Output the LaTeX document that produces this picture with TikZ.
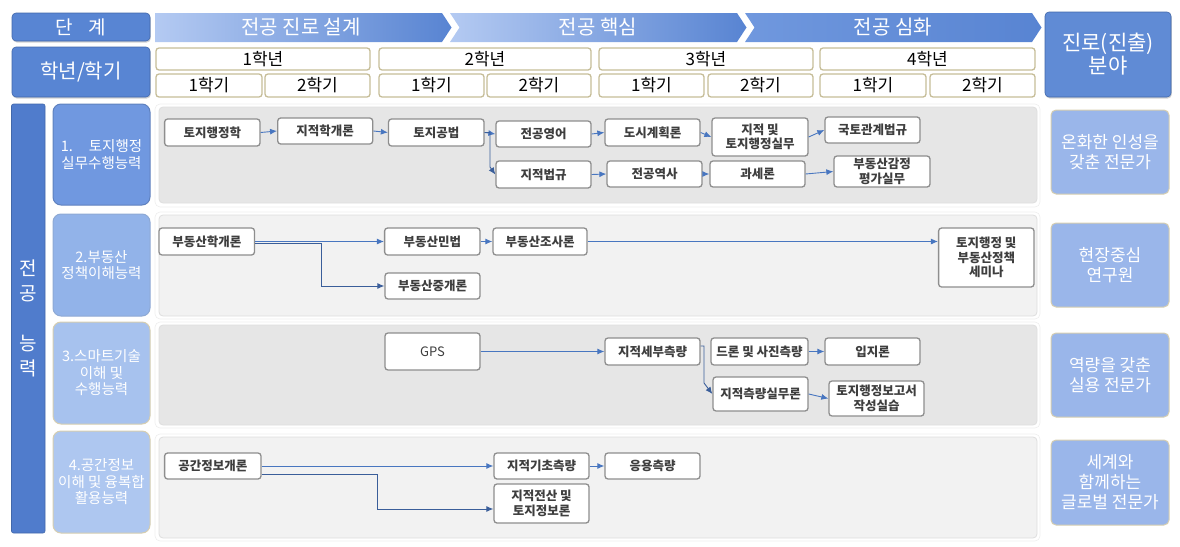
\documentclass[tikz,border=0pt]{standalone}
\usepackage{fontspec}
\newfontfamily\kr{Noto Sans CJK KR}
\usetikzlibrary{arrows.meta,shadows}
\definecolor{hdrblue}{RGB}{88,133,211}
\definecolor{hdrline}{RGB}{66,104,170}
\definecolor{chl}{RGB}{180,202,242}
\definecolor{chr}{RGB}{88,132,210}
\definecolor{chm}{RGB}{112,152,222}
\definecolor{barblue}{RGB}{80,124,204}
\definecolor{compa}{RGB}{112,152,224}
\definecolor{compb}{RGB}{146,179,233}
\definecolor{compc}{RGB}{167,194,238}
\definecolor{compd}{RGB}{174,199,240}
\definecolor{goalblue}{RGB}{154,182,234}
\definecolor{goaltan}{RGB}{214,206,176}
\definecolor{yrtan}{RGB}{198,189,152}
\definecolor{boxgray}{RGB}{142,142,142}
\definecolor{textgray}{RGB}{62,62,62}
\definecolor{panda}{RGB}{230,230,230}
\definecolor{pandb}{RGB}{242,242,242}
\definecolor{panline}{RGB}{222,222,222}
\definecolor{arrblue}{RGB}{72,118,192}
% \bx{style}{x1}{y1}{x2}{y2}{name}{text}
\newcommand\bx[7]{\node[#1, minimum width={#4-#2}, minimum height={#5-#3}] (#6) at ({(#2+#4)/2},{(#3+#5)/2}) {#7};}
\begin{document}
\begin{tikzpicture}[x=1pt,y=-1pt,
  hdrbox/.style={fill=hdrblue, draw=hdrline, line width=0.6pt, rounded corners=4pt, text=white,
    font=\kr\fontsize{20}{23}\selectfont, inner sep=0pt, align=center,
    drop shadow={shadow xshift=0.8pt, shadow yshift=-1.5pt, opacity=0.35}},
  chev/.style={left color=chl, right color=chr, draw=none},
  chevtext/.style={text=white, font=\kr\fontsize{20}{23}\selectfont, inner sep=0pt},
  yrbox/.style={fill=white, draw=yrtan, line width=1.3pt, rounded corners=3pt,
    font=\kr\fontsize{17}{19}\selectfont, inner sep=0pt},
  box/.style={fill=white, draw=boxgray, line width=1.3pt, rounded corners=3pt,
    font=\kr\bfseries\fontsize{12.5}{14.5}\selectfont, text=textgray, inner sep=0pt, align=center},
  comp/.style={rounded corners=8pt, text=white, font=\kr\fontsize{14.5}{16.5}\selectfont,
    inner sep=0pt, align=center, line width=1pt},
  goal/.style={fill=goalblue, draw=goaltan, line width=1pt, rounded corners=5pt, text=white,
    font=\kr\fontsize{17}{20}\selectfont, align=center, inner sep=0pt},
  panel/.style={draw=panline, line width=0.8pt, rounded corners=4pt, inner sep=0pt},
  arr/.style={draw=arrblue, line width=0.9pt, -{Latex[length=7pt,width=6pt]}}
]
\useasboundingbox (0,0) rectangle (1180,546);

% ---------- header ----------
\bx{hdrbox, font=\kr\fontsize{19}{23}\selectfont}{12}{13}{150}{41}{stage}{단\hspace{16pt}계}
\bx{hdrbox}{12}{47}{150}{97}{yearsem}{학년/학기}
\bx{hdrbox, fill=hdrblue!95!white, font=\kr\fontsize{21}{23}\selectfont}{1045}{12}{1171}{97}{career}{진로(진출)\\분야}

\path[chev] (155,13) -- (442,13) -- (451.5,27.5) -- (442,42) -- (155,42) -- cycle;
\path[chev] (450,13) -- (737,13) -- (746.5,27.5) -- (737,42) -- (450,42) -- (459.5,27.5) -- cycle;
\path[left color=chm, right color=chr] (745,13) -- (1032,13) -- (1041.5,27.5) -- (1032,42) -- (745,42) -- (754.5,27.5) -- cycle;
\node[chevtext] (ch1) at (301,27.5) {전공 진로 설계};
\node[chevtext] (ch2) at (598,27.5) {전공 핵심};
\node[chevtext] (ch3) at (893,27.5) {전공 심화};

\bx{yrbox}{156}{48}{370}{70}{y1}{1학년}
\bx{yrbox}{379}{48}{591}{70}{y2}{2학년}
\bx{yrbox}{599}{48}{813}{70}{y3}{3학년}
\bx{yrbox}{820}{48}{1035}{70}{y4}{4학년}
\bx{yrbox}{156}{74}{262}{97}{s11}{1학기}
\bx{yrbox}{265}{74}{370}{97}{s12}{2학기}
\bx{yrbox}{379}{74}{484}{97}{s21}{1학기}
\bx{yrbox}{487}{74}{591}{97}{s22}{2학기}
\bx{yrbox}{599}{74}{704}{97}{s31}{1학기}
\bx{yrbox}{708}{74}{813}{97}{s32}{2학기}
\bx{yrbox}{820}{74}{926}{97}{s41}{1학기}
\bx{yrbox}{930}{74}{1035}{97}{s42}{2학기}

% ---------- left column ----------
\bx{fill=barblue, draw=hdrline, line width=0.6pt, rounded corners=2pt, inner sep=0pt}{11.5}{104}{45}{533}{bar}{}
\node[text=white, font=\kr\fontsize{19}{25}\selectfont, align=center, inner sep=0pt] (bartext) at (28,318.5) {전\\공\\[25pt]능\\력};

\bx{comp, fill=compa, draw=compa!85!black}{53}{104}{150}{205}{k1}{1.\hspace{1.1em}토지행정\\실무수행능력}
\bx{comp, fill=compb, draw=compb!80!gray}{53}{214}{150}{316}{k2}{2.부동산\\정책이해능력}
\bx{comp, fill=compc, draw=goaltan}{53}{322}{150}{424}{k3}{3.스마트기술\\이해 및\\수행능력}
\bx{comp, fill=compd, draw=goaltan}{53}{431}{150}{533}{k4}{4.공간정보\\이해 및 융복합\\활용능력}

% ---------- panels ----------
\draw[white!93!black, line width=0.6pt, rounded corners=5pt] (155,104) rectangle (1040,207);
\draw[white!93!black, line width=0.6pt, rounded corners=5pt] (155,212) rectangle (1040,319);
\draw[white!93!black, line width=0.6pt, rounded corners=5pt] (155,322) rectangle (1040,428);
\draw[white!93!black, line width=0.6pt, rounded corners=5pt] (155,434) rectangle (1040,541);
\bx{panel, fill=panda}{159}{107}{1037}{203}{p1}{}
\bx{panel, fill=pandb}{159}{215}{1037}{316}{p2}{}
\bx{panel, fill=panda}{159}{325}{1037}{425}{p3}{}
\bx{panel, fill=pandb}{159}{437}{1037}{538}{p4}{}

% ---------- goals ----------
\bx{goal}{1051}{110}{1169}{194}{g1}{온화한 인성을\\갖춘 전문가}
\bx{goal}{1051}{223}{1169}{307}{g2}{현장중심\\연구원}
\bx{goal}{1051}{333}{1169}{417}{g3}{역량을 갖춘\\실용 전문가}
\bx{goal}{1051}{440}{1169}{525}{g4}{세계와\\함께하는\\글로벌 전문가}

% ---------- row 1 ----------
\bx{box}{164.6}{119}{260}{146}{r1a}{토지행정학}
\bx{box}{277.7}{118}{372.7}{144}{r1b}{지적학개론}
\bx{box}{388.5}{119}{484}{146}{r1c}{토지공법}
\bx{box}{496}{121}{591}{147}{r1d}{전공영어}
\bx{box}{605}{119}{700}{146}{r1e}{도시계획론}
\bx{box}{712}{118}{808}{156}{r1f}{지적 및\\토지행정실무}
\bx{box}{825}{117}{920}{143}{r1g}{국토관계법규}
\bx{box}{496}{161}{591}{188}{r1h}{지적법규}
\bx{box}{607}{161}{702}{187}{r1i}{전공역사}
\bx{box}{710}{161}{805}{187}{r1j}{과세론}
\bx{box}{834}{156}{930}{187}{r1k}{부동산감정\\평가실무}

\coordinate (j0) at (490,132.5);
\coordinate (j0b) at (490,167);
\draw[arr] (r1a.east) -- (r1b.west);
\draw[arr] (r1b.east) -- (r1c.west);
\draw[arr] (r1c.east) -- (r1d.west);
\draw[arr, draw=arrblue!80!black] (r1c.east) -- (j0) -- (j0b) -- (r1h.west);
\draw[arr] (r1d.east) -- (r1e.west);
\draw[arr] (r1e.east) -- (r1f.west);
\draw[arr] (r1f.east) -- (r1g.west);
\draw[arr] (r1h.east) -- (r1i.west);
\draw[arr] (r1i.east) -- (r1j.west);
\draw[arr] (r1j.east) -- (r1k.west);

% ---------- row 2 ----------
\bx{box}{159}{228}{254.5}{255}{r2a}{부동산학개론}
\bx{box}{384.6}{228}{480}{255}{r2b}{부동산민법}
\bx{box}{493}{228}{587}{255}{r2c}{부동산조사론}
\bx{box}{385}{273}{480}{299}{r2d}{부동산중개론}
\bx{box}{938.6}{228}{1034}{287}{r2e}{토지행정 및\\부동산정책\\세미나}

\coordinate (j1) at (321,243.5);
\draw[arr] (r2a.east) -- (r2b.west);
\draw[arr, draw=arrblue!80!black] (r2a.east |- j1) -- (j1) |- (r2d.west);
\draw[arr] (r2b.east) -- (r2c.west);
\draw[arr] (r2c.east) -- (r2c.east -| r2e.west);

% ---------- row 3 ----------
\bx{box, font=\kr\fontsize{13}{15}\selectfont}{385}{333}{480}{370}{r3a}{GPS}
\bx{box}{605}{338}{700}{365}{r3b}{지적세부측량}
\bx{box}{711}{338}{808}{365}{r3c}{드론 및 사진측량}
\bx{box}{825}{338}{920}{365}{r3d}{입지론}
\bx{box}{713}{377}{808}{411}{r3e}{지적측량실무론}
\bx{box}{829}{381}{924}{416}{r3f}{토지행정보고서\\작성실습}

\coordinate (j2) at (704,346);
\coordinate (j2b) at (704,383);
\draw[arr] (r3a.east) -- (r3b.west);
\draw[arr, draw=arrblue!80!black] (r3b.east |- j2) -- (j2) -- (j2b) -- (r3e.west);
\draw[arr] (r3c.east) -- (r3d.west);
\draw[arr] (r3e.east) -- (r3f.west);

% ---------- row 4 ----------
\bx{box}{164.6}{453}{261}{479}{r4a}{공간정보개론}
\bx{box}{494}{453}{589}{479}{r4b}{지적기초측량}
\bx{box}{494}{484}{589}{523}{r4c}{지적전산 및\\토지정보론}
\bx{box}{605}{453}{700}{479}{r4d}{응용측량}

\coordinate (j3) at (377,474);
\coordinate (j3b) at (377,509);
\draw[arr] (r4a.east) -- (r4b.west);
\draw[arr, draw=arrblue!80!black] (r4a.east |- j3) -- (j3) -- (j3b) -- (j3b -| r4c.west);
\draw[arr] (r4b.east) -- (r4d.west);
\end{tikzpicture}
\end{document}
